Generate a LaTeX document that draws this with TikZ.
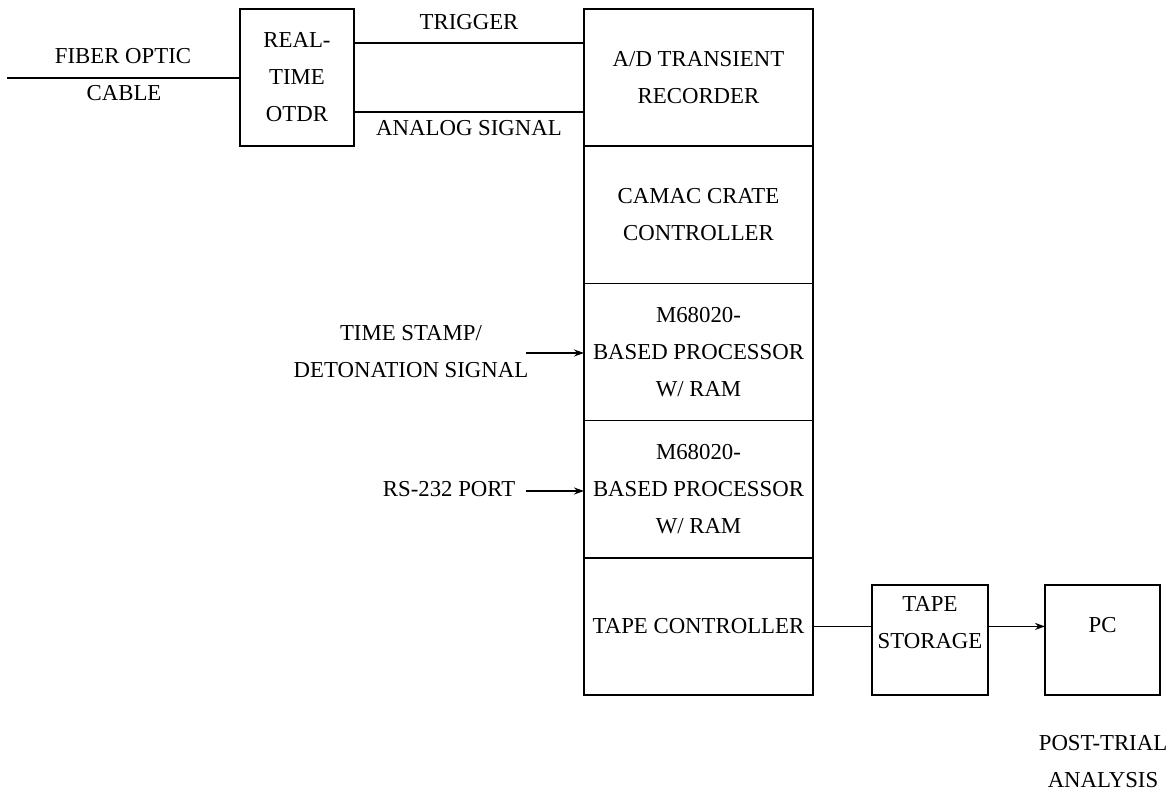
\documentclass[tikz,border=0pt]{standalone}
\usepackage{fontspec}
\setmainfont{Liberation Serif}
\usepackage{tikz}
\usetikzlibrary{arrows.meta, positioning}

\begin{document}
\begin{tikzpicture}[x=0.5pt, y=-0.5pt, >={Stealth[length=5pt, width=3.5pt]}, line width=0.8pt,
  font=\fontsize{11.4}{18.5}\selectfont,
  box/.style={draw, align=center, inner sep=0pt, outer sep=0pt},
  stackbox/.style={box, minimum width=114.5pt, minimum height=68.6pt},
  lbl/.style={align=center, inner sep=1pt}]
  \useasboundingbox (0,0) rectangle (1176,790);

  % OTDR und Glasfaser
  \node[box, minimum width=57pt, minimum height=68.5pt] (otdr) at (297,77.5) {REAL-\\TIME\\OTDR};
  \coordinate (fibend) at (7,78);
  \draw (fibend) -- (fibend -| otdr.west);
  \node[lbl] (fiber) at (123,56) {FIBER OPTIC};
  \node[lbl] (cable) at (124,93) {CABLE};

  % CAMAC-Stapel
  \node[stackbox, anchor=north] (ad) at (698.5,9) {A/D TRANSIENT\\RECORDER};
  \node[stackbox, below=0pt of ad] (camac) {CAMAC CRATE\\CONTROLLER};
  \node[stackbox, below=0pt of camac] (cpua) {M68020-\\BASED PROCESSOR\\W/ RAM};
  \node[stackbox, below=0pt of cpua] (cpub) {M68020-\\BASED PROCESSOR\\W/ RAM};
  \node[stackbox, below=0pt of cpub] (tc) {TAPE CONTROLLER};

  % Trigger und Analogsignal
  \coordinate (trig) at (0,43);
  \coordinate (analog) at (0,112);
  \draw (otdr.east |- trig) -- (ad.west |- trig);
  \draw (otdr.east |- analog) -- (ad.west |- analog);
  \node[lbl] (triglbl) at (469,22) {TRIGGER};
  \node[lbl] (analoglbl) at (469,128) {ANALOG SIGNAL};

  % Eingaenge der Prozessoren
  \coordinate (stampin) at (526,353);
  \coordinate (rsin) at (526,491);
  \draw[->] (stampin) -- (stampin -| cpua.west);
  \draw[->] (rsin) -- (rsin -| cpub.west);
  \node[lbl] (stamplbl) at (411,333) {TIME STAMP/};
  \node[lbl] (detlbl) at (411,370) {DETONATION SIGNAL};
  \node[lbl, anchor=east] (rslbl) at (518,489) {RS-232 PORT};

  % Band und PC
  \node[box, minimum width=58pt, minimum height=55pt] (store) at (930,640) {};
  \node[lbl] (storelbl) at (930,623) {TAPE\\STORAGE};
  \node[box, minimum width=57.5pt, minimum height=55pt] (pc) at (1102.5,640) {};
  \node[lbl] (pclbl) at (1102.5,625) {PC};
  \draw (tc.east) -- (tc.east -| store.west);
  \draw[->] (tc.east -| store.east) -- (tc.east -| pc.west);
  \node[lbl] (postlbl) at (1103,761.5) {POST-TRIAL\\ANALYSIS};
\end{tikzpicture}
\end{document}
